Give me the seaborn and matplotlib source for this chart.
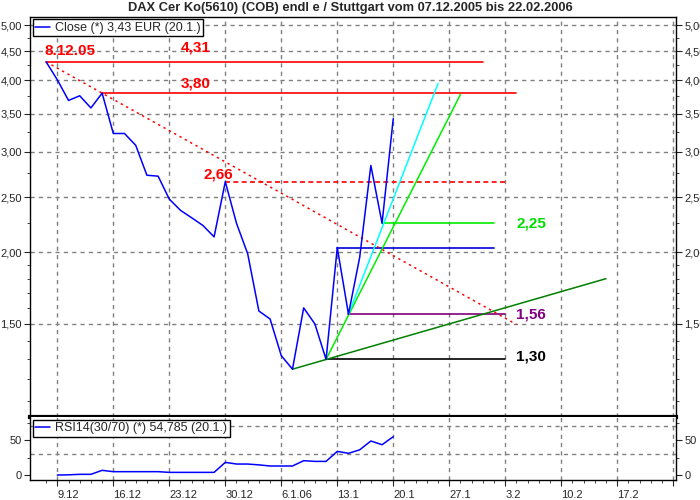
import numpy as np
import pandas as pd
import matplotlib
matplotlib.use("Agg")
import matplotlib.pyplot as plt
import seaborn as sns
from matplotlib.ticker import FixedLocator, FixedFormatter, NullFormatter

# ---------------- data ----------------
dates = pd.bdate_range("2005-12-08", "2006-01-20")          # trading days
close = [4.31, 4.01, 3.69, 3.76, 3.58, 3.80, 3.23, 3.23, 3.08, 2.73,
         2.72, 2.48, 2.37, 2.30, 2.23, 2.13, 2.66, 2.25, 1.99, 1.58,
         1.53, 1.32, 1.25, 1.60, 1.50, 1.30, 2.04, 1.56, 1.96, 2.84,
         2.25, 3.43]
rsi = [np.nan, 0.0, 0.3, 1.0, 1.0, 6.7, 4.8, 4.8, 4.8, 4.8,
       4.8, 3.8, 3.8, 3.8, 3.8, 3.8, 18.1, 15.7, 15.7, 14.5,
       12.9, 12.9, 12.9, 20.5, 19.5, 19.5, 33.8, 31.0, 36.0, 48.6,
       43.3, 54.8]

x_ticklabels = ["9.12", "16.12", "23.12", "30.12", "6.1.06", "13.1",
                "20.1", "27.1", "3.2", "10.2", "17.2"]
y_ticks = [1.5, 2.0, 2.5, 3.0, 3.5, 4.0, 4.5, 5.0]
rsi_ticks = [0, 50]
rsi_grid = [30, 70]

# horizontal levels: value, start index (trading day), end index
level_values = [4.31, 3.80, 2.66, 2.04, 2.25, 1.56, 1.30]
level_start = [0, 5, 16, 26, 30, 27, 25]
level_end = [39, 42, 41, 40, 40, 41, 41]
level_colors = ["#FF0000", "#FF0000", "#FF0000", "#0000DD", "#00EE00", "#800080", "#000000"]
level_styles = ["-", "-", (0, (3, 2)), "-", "-", "-", "-"]
level_labels = ["4,31", "3,80", "2,66", None, "2,25", "1,56", "1,30"]

# trend lines: (start index, start value) -> (end index, end value)
trend_x0 = [0, 22, 25, 27]
trend_y0 = [4.31, 1.25, 1.30, 1.56]
trend_x1 = [42, 50, 37, 35]
trend_y1 = [1.497, 1.80, 3.78, 3.95]
trend_colors = ["#FF0000", "#008000", "#00EE00", "#00FFFF"]
trend_styles = [(0, (1.5, 2.5)), "-", "-", "-"]

title = "DAX Cer Ko(5610) (COB) endl e / Stuttgart vom 07.12.2005 bis 22.02.2006"

# ---------------- style ----------------
sns.set_style("white")
plt.rcParams['font.family'] = ['Liberation Sans', 'DejaVu Sans']

fig = plt.figure(figsize=(7, 5), dpi=100)
ax = fig.add_axes([30/700, 83/500, 646/700, 400/500])
ax2 = fig.add_axes([30/700, 20/500, 646/700, 63/500], sharex=ax)

df = pd.DataFrame({"t": np.arange(len(dates)), "close": close, "rsi": rsi})

ax.set_yscale("log")
sns.lineplot(data=df, x="t", y="close", ax=ax, color="#0000FF", lw=1.1,
             label="Close (*) 3,43 EUR (20.1.)", zorder=5)
sns.lineplot(data=df.dropna(), x="t", y="rsi", ax=ax2, color="#0000FF", lw=1.1,
             label="RSI14(30/70) (*) 54,785 (20.1.)", zorder=5)

# extended trading-day axis to end of February
all_days = pd.bdate_range("2005-12-08", "2006-02-24")
fridays = [i for i, d in enumerate(all_days) if d.weekday() == 4]
xmin, xmax = -1.44, 56.25
ax.set_xlim(xmin, xmax)
ax.set_ylim(1.031, 5.164)
ax2.set_ylim(-7.1, 82.9)

grid_kw = dict(color="#808080", lw=1, ls=(0, (3, 3)), zorder=0)
for f in fridays:
    ax.axvline(f, **grid_kw)
    ax2.axvline(f, **grid_kw)
for v in y_ticks:
    ax.axhline(v, **grid_kw)
for v in rsi_grid:
    ax2.axhline(v, **grid_kw)

# levels
for v, s, e, c, ls in zip(level_values, level_start, level_end, level_colors, level_styles):
    ax.plot([s, e], [v, v], color=c, lw=1.2, ls=ls, zorder=3)
# trends
for x0, y0, x1, y1, c, ls in zip(trend_x0, trend_y0, trend_x1, trend_y1, trend_colors, trend_styles):
    ax.plot([x0, x1], [y0, y1], color=c, lw=1.1, ls=ls, zorder=4)

# labels
lab_kw = dict(fontsize=11, fontweight="bold", textcoords="offset points")
ax.annotate("8.12.05", xy=(0, 4.31), xytext=(-1, 3), ha="left", va="bottom", color="#FF0000", **lab_kw)
ax.annotate(level_labels[0], xy=(12, 4.31), xytext=(0, 5), ha="left", va="bottom", color="#FF0000", **lab_kw)
ax.annotate(level_labels[1], xy=(12, 3.80), xytext=(0, 2), ha="left", va="bottom", color="#FF0000", **lab_kw)
ax.annotate(level_labels[2], xy=(16, 2.66), xytext=(-5, 0), ha="center", va="bottom", color="#FF0000", **lab_kw)
ax.annotate(level_labels[4], xy=(42, 2.25), xytext=(0, 0), ha="left", va="center", color="#00DD00", **lab_kw)
ax.annotate(level_labels[5], xy=(42, 1.56), xytext=(0, 0), ha="left", va="center", color="#800080", **lab_kw)
ax.annotate(level_labels[6], xy=(42, 1.30), xytext=(0, 2), ha="left", va="center", color="#000000", **lab_kw)

# ticks
fmt = [f"{v:.2f}".replace(".", ",") for v in y_ticks]
ax.yaxis.set_major_locator(FixedLocator(y_ticks))
ax.yaxis.set_major_formatter(FixedFormatter(fmt))
ax.yaxis.set_minor_locator(FixedLocator([1.1, 1.2, 1.3, 1.4, 1.6, 1.7, 1.8, 1.9, 2.25, 2.75, 3.25, 3.75, 4.25, 4.75]))
ax.yaxis.set_minor_formatter(NullFormatter())
ax.tick_params(axis="y", which="both", left=True, right=True, labelleft=True, labelright=True,
               direction="out", labelsize=8, pad=2)
ax.tick_params(axis="y", which="major", length=4)
ax.tick_params(axis="y", which="minor", length=2)
ax.tick_params(axis="x", which="both", bottom=False, labelbottom=False)

ax2.yaxis.set_major_locator(FixedLocator(rsi_ticks))
ax2.yaxis.set_minor_locator(FixedLocator([25, 75]))
ax2.tick_params(axis="y", which="both", left=True, right=True, labelleft=True, labelright=True,
                direction="out", labelsize=8, pad=2)
ax2.tick_params(axis="y", which="major", length=4)
ax2.tick_params(axis="y", which="minor", length=2)
ax2.xaxis.set_major_locator(FixedLocator(fridays))
ax2.xaxis.set_major_formatter(FixedFormatter(x_ticklabels))
ax2.xaxis.set_minor_locator(FixedLocator(list(range(0, 57))))
ax2.tick_params(axis="x", which="both", bottom=True, direction="out", labelsize=8, pad=3)
ax2.tick_params(axis="x", which="major", length=4)
ax2.tick_params(axis="x", which="minor", length=2)
for lbl in ax2.get_xticklabels():
    lbl.set_horizontalalignment("left")

ax.set_xlabel(""); ax.set_ylabel(""); ax2.set_xlabel(""); ax2.set_ylabel("")

for a in (ax, ax2):
    for sp in a.spines.values():
        sp.set_color("black")
        sp.set_linewidth(1)
ax.spines["bottom"].set_linewidth(3)
ax2.spines["top"].set_visible(False)

leg_kw = dict(loc="upper left", fontsize=9, handlelength=1.2, handletextpad=0.4,
              borderpad=0.2, borderaxespad=0.2, fancybox=False, framealpha=1,
              edgecolor="black")
l1 = ax.legend(**leg_kw)
l1.get_frame().set_linewidth(1)
l2 = ax2.legend(**leg_kw)
l2.get_frame().set_linewidth(1)

fig.text(350/700, 1 - 8/500, title, ha="center", va="center", fontsize=9.3, fontweight="bold")

fig.savefig("out.png", dpi=100)
